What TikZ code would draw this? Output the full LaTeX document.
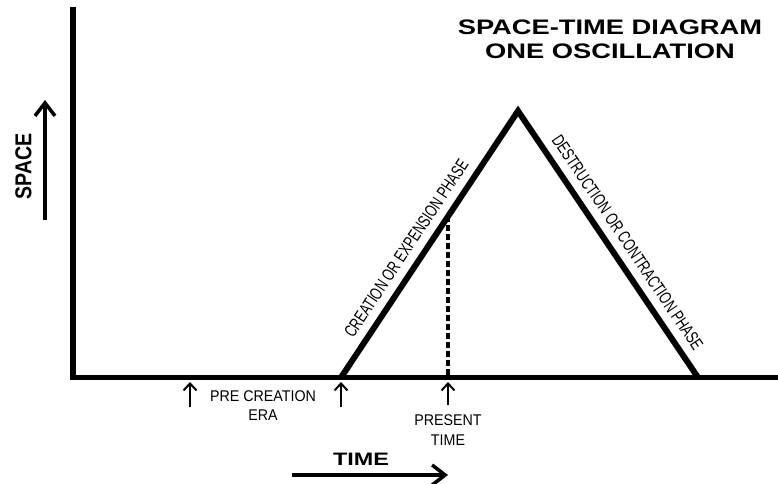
\documentclass[tikz,border=0pt]{standalone}
\usepackage{fontspec}
\setmainfont{Liberation Sans}
\usetikzlibrary{arrows.meta,calc}
\newfontfamily\widebold[FakeStretch=1.3]{Liberation Sans Bold}
\newfontfamily\spacebold[FakeStretch=0.85]{Liberation Sans Bold}
\newfontfamily\narrowsans[FakeStretch=0.72]{Liberation Sans}
\newfontfamily\labelsans[FakeStretch=0.92]{Liberation Sans}
\begin{document}
\begin{tikzpicture}[x=1pt,y=-1pt,
  axisline/.style={line width=5.5pt, line join=miter},
  phaseline/.style={line width=6pt, line join=miter},
  nowline/.style={line width=3.5pt, dash pattern=on 6pt off 3pt},
  smallarrow/.style={line width=2pt, -{Straight Barb[length=7pt,width=13pt,line width=2pt]}},
  bigarrow/.style={line width=3.5pt, -{Straight Barb[length=13pt,width=20pt,line width=3.5pt]}},
  phaselabel/.style={font=\narrowsans\fontsize{17.5}{19}\selectfont, sloped, inner sep=1pt},
  smalllabel/.style={font=\labelsans\fontsize{15.5}{19}\selectfont, align=center, inner sep=0pt},
  titlelabel/.style={font=\widebold\fontsize{21}{24}\selectfont, inner sep=0pt, anchor=base},
]
\useasboundingbox[fill=white] (0,0) rectangle (778,483);

% axes
\coordinate (ytop) at (73,7);
\coordinate (origin) at (73,377.5);
\coordinate (xend) at (778,377.5);
\draw[axisline] (ytop) -- (origin) -- (xend);

% oscillation
\coordinate (b1) at (341,377.5);
\coordinate (peak) at (518,111);
\coordinate (b2) at (698,377.5);
\draw[phaseline] (b1)
  -- node[phaselabel, above=7pt, pos=0.45] {CREATION OR EXPENSION PHASE} (peak)
  -- node[phaselabel, above=7pt, pos=0.53] {DESTRUCTION OR CONTRACTION PHASE} (b2);

% present time marker
\coordinate (now) at ($(b1)!0.6045!(peak)$);
\draw[nowline] (now) -- (now |- origin);

% small arrows
\coordinate (a1t) at (190,407); \coordinate (a1h) at (190,382);
\coordinate (a2t) at (341,407); \coordinate (a2h) at (341,382);
\coordinate (a3t) at (448,405); \coordinate (a3h) at (448,382);
\draw[smallarrow] (a1t) -- (a1h);
\draw[smallarrow] (a2t) -- (a2h);
\draw[smallarrow] (a3t) -- (a3h);

\node[smalllabel, anchor=base] (pre) at (263,420) {PRE CREATION\\ERA};
\node[smalllabel, anchor=base] (present) at (448,445) {PRESENT\\[1pt]TIME};

% axis captions
\node[font=\widebold\fontsize{18}{20}\selectfont, inner sep=0pt, anchor=base] (timelbl) at (361,465) {TIME};
\coordinate (tt) at (292,475); \coordinate (th) at (448,475);
\draw[bigarrow] (tt) -- (th);

\node[font=\spacebold\fontsize{23}{25}\selectfont, inner sep=0pt, rotate=90] (spacelbl) at (23.5,166.5) {SPACE};
\coordinate (st) at (45,220); \coordinate (sh) at (45,100);
\draw[bigarrow] (st) -- (sh);

% title
\node[titlelabel] (title1) at (610,34) {SPACE-TIME DIAGRAM};
\node[titlelabel] (title2) at (610,58) {ONE OSCILLATION};
\end{tikzpicture}
\end{document}
